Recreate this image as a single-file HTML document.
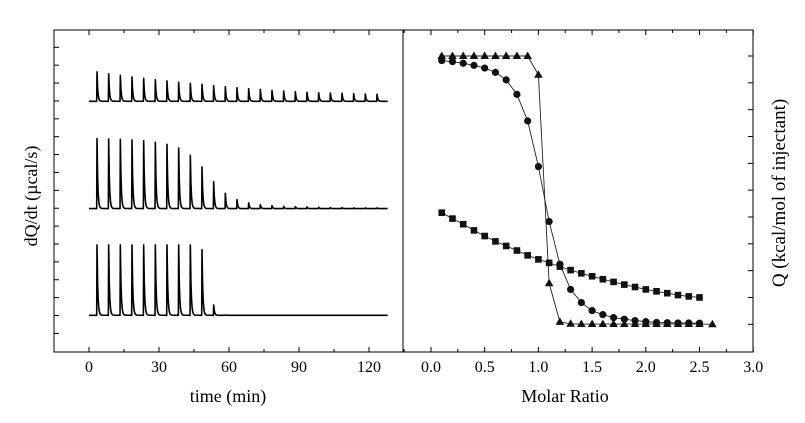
<!DOCTYPE html>
<html><head><meta charset="utf-8">
<style>
html,body{margin:0;padding:0;background:#fff;}
svg{display:block;font-family:"Liberation Serif",serif;}
</style></head>
<body>
<svg id="c" width="805" height="423" viewBox="0 0 805 423"></svg>
<script>
// ---- Left panel data (thermogram) ----
const injTimes = [3.3,8.3,13.3,18.3,23.3,28.3,33.3,38.3,43.3,48.3,53.3,58.3,63.3,68.3,73.3,78.3,83.3,88.3,93.3,98.3,103.3,108.3,113.3,118.3,123.3];
const peaksTop = [88,83,78,73,69,65,61,57,54,51,47,44,41,38,36,33,31,29,27,26,25,24,23,22,21];
const peaksMid = [210,209,208,206,204,199,193,182,160,125,81,46,27,17,12,9,7,6,5,4,3,3,2,2,2];
const peaksBot = [211,211,211,211,211,211,211,211,211,197,31,1,0,0,0,0,0,0,0,0,0,0,0,0,0];
const timeTicks = [0,30,60,90,120];
// ---- Right panel data (binding isotherms) ----
const triX = [0.1,0.2,0.3,0.4,0.5,0.6,0.7,0.8,0.9,1.0,1.1,1.2,1.3,1.4,1.5,1.6,1.7,1.8,1.9,2.0,2.1,2.2,2.3,2.4,2.5,2.62];
const triY = [10.0,10.0,10.0,10.0,10.0,10.0,10.0,10.0,10.0,9.30,1.53,0.09,0.02,0.01,0.01,0.01,0.01,0.01,0.01,0.01,0.01,0.01,0.01,0.01,0.01,0.0];
const cirX = [0.1,0.2,0.3,0.4,0.5,0.6,0.7,0.8,0.9,1.0,1.1,1.2,1.3,1.4,1.5,1.6,1.7,1.8,1.9,2.0,2.1,2.2,2.3,2.4,2.5];
const cirY = [9.83,9.79,9.73,9.65,9.55,9.39,9.11,8.57,7.58,5.88,3.83,2.24,1.30,0.81,0.51,0.36,0.25,0.19,0.14,0.10,0.07,0.06,0.05,0.05,0.04];
const sqX = [0.1,0.2,0.3,0.4,0.5,0.6,0.7,0.8,0.9,1.0,1.1,1.2,1.3,1.4,1.5,1.6,1.7,1.8,1.9,2.0,2.1,2.2,2.3,2.4,2.5];
const sqY = [4.16,3.94,3.73,3.50,3.29,3.09,2.92,2.75,2.57,2.42,2.29,2.15,2.02,1.90,1.79,1.68,1.58,1.48,1.39,1.30,1.23,1.16,1.09,1.04,1.00];
const ratioTicks = ["0.0","0.5","1.0","1.5","2.0","2.5","3.0"];

const svg = document.getElementById('c');
const NS = 'http://www.w3.org/2000/svg';
function mk(tag, attrs, parent){const e=document.createElementNS(NS,tag);for(const k in attrs)e.setAttribute(k,attrs[k]);(parent||svg).appendChild(e);return e;}

const L={x0:54,x1:403,y0:30,y1:352};
const R={x0:403,x1:753,y0:30,y1:352};
const tx = t => 89 + t*(280/120);
const bases = [101.3,208.6,315.3];
const ampScale = 1/3;
const rx = v => 431 + v*107.4;
const ry = v => 324.3 - v*26.83;

const f1=mk('rect',{x:L.x0,y:L.y0,width:L.x1-L.x0,height:L.y1-L.y0,fill:'none',stroke:'#000','stroke-width':1});

const f2=mk('rect',{x:R.x0,y:R.y0,width:R.x1-R.x0,height:R.y1-R.y0,fill:'none',stroke:'#000','stroke-width':1});


const gt=mk('g',{stroke:'#000','stroke-width':1});

for(let t=0;t<=135;t+=15){const x=tx(t);if(x>L.x1-1)break;const len=(t%30===0)?5:3;
 mk('line',{x1:x,y1:L.y1,x2:x,y2:L.y1-len},gt);mk('line',{x1:x,y1:L.y0,x2:x,y2:L.y0+len},gt);}
for(let i=0;i<17;i++){const y=47.3+i*17.88;mk('line',{x1:L.x0,y1:y,x2:L.x0+5,y2:y},gt);}
timeTicks.forEach(t=>{const e=mk('text',{x:tx(t),y:372,'text-anchor':'middle','font-size':16});e.textContent=t;
 });

function trace(arr, base, name){
 let d=`M${tx(0)},${base}`;
 arr.forEach((a,i)=>{const t=injTimes[i];const x=tx(t);const h=a*ampScale;
  d+=` L${x},${base} L${x+0.3},${base-h}`;
  for(let k=1;k<=8;k++){const dx=k*0.6;d+=` L${x+0.3+dx},${base-h*Math.exp(-k*0.75)}`;}
 });
 d+=` L${tx(128)},${base}`;
 const p=mk('path',{d:d,fill:'none',stroke:'#000','stroke-width':1.6,'stroke-linejoin':'round'});
 
}
trace(peaksTop,bases[0],'trace-top');
trace(peaksMid,bases[1],'trace-middle');
trace(peaksBot,bases[2],'trace-bottom');

const gr=mk('g',{stroke:'#000','stroke-width':1});

for(let v=-0.25;v<=3.01;v+=0.25){const x=rx(v);if(x<R.x0+1||x>R.x1+1)continue;const len=(Math.round(v*100)%50===0)?5:3;
 mk('line',{x1:x,y1:R.y1,x2:x,y2:R.y1-len},gr);mk('line',{x1:x,y1:R.y0,x2:x,y2:R.y0+len},gr);}
for(let i=0;i<=10;i++){const y=ry(i);mk('line',{x1:R.x1,y1:y,x2:R.x1-5,y2:y},gr);}
ratioTicks.forEach(s=>{const e=mk('text',{x:rx(parseFloat(s)),y:372,'text-anchor':'middle','font-size':16});e.textContent=s;
 });

function line(xs,ys,name){const pts=xs.map((x,i)=>rx(x)+','+ry(ys[i])).join(' ');
 const p=mk('polyline',{points:pts,fill:'none',stroke:'#222','stroke-width':0.9});
 }
line(sqX,sqY,'square-series-line');
line(cirX,cirY,'circle-series-line');
line(triX,triY,'triangle-series-line');
sqX.forEach((x,i)=>{const e=mk('rect',{x:rx(x)-3.3,y:ry(sqY[i])-3.3,width:6.6,height:6.6,fill:'#111'});
 });
cirX.forEach((x,i)=>{const e=mk('circle',{cx:rx(x),cy:ry(cirY[i]),r:3.6,fill:'#111'});
 });
triX.forEach((x,i)=>{const cx=rx(x),cy=ry(triY[i]);
 const e=mk('polygon',{points:`${cx},${cy-4.5} ${cx-4.3},${cy+3} ${cx+4.3},${cy+3}`,fill:'#111'});
 });

let e=mk('text',{x:228,y:402,'text-anchor':'middle','font-size':18});e.textContent='time (min)';

e=mk('text',{x:565,y:402,'text-anchor':'middle','font-size':18});e.textContent='Molar Ratio';

e=mk('text',{x:0,y:0,'text-anchor':'middle','font-size':18,transform:'translate(37,196) rotate(-90)'});e.textContent='dQ/dt (µcal/s)';

e=mk('text',{x:0,y:0,'text-anchor':'middle','font-size':19,transform:'translate(785,193) rotate(-90)'});e.textContent='Q (kcal/mol of injectant)';

</script>
</body></html>
